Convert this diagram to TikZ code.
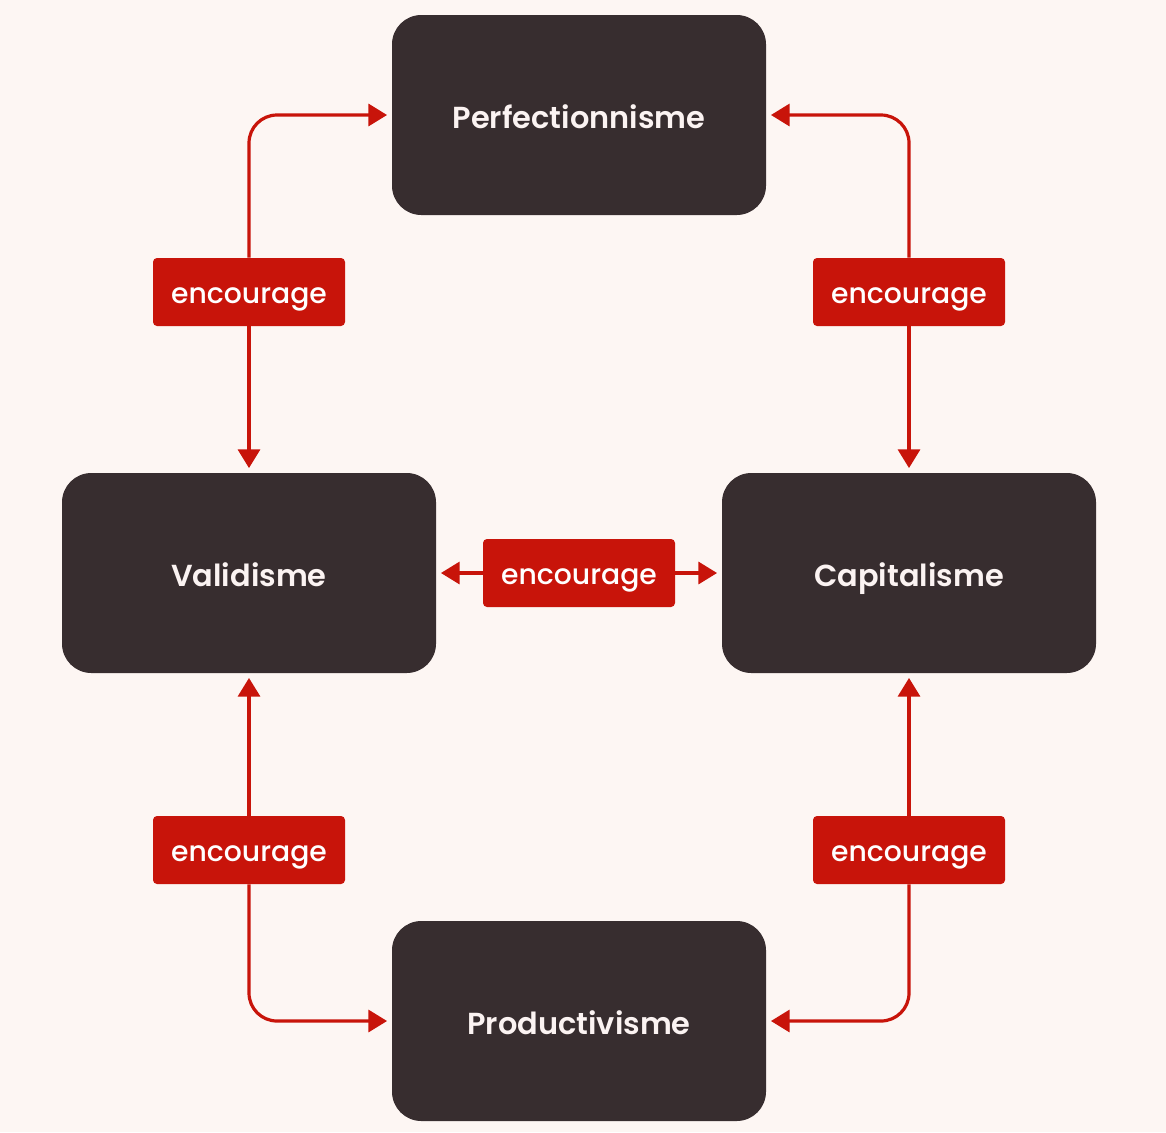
\documentclass[tikz,border=0pt]{standalone}
\usepackage{fontspec}
\setmainfont{Poppins}
\newfontfamily\boxfont{Poppins SemiBold}
\newfontfamily\labfont{Poppins Medium}
\usetikzlibrary{arrows.meta,calc}
\definecolor{bg}{HTML}{FDF6F3}
\definecolor{boxc}{HTML}{372D2F}
\definecolor{redc}{HTML}{C8140A}
\definecolor{txtc}{HTML}{FBF3F2}
\begin{document}
\begin{tikzpicture}[x=0.75pt,y=-0.75pt,
  concept/.style={fill=boxc, text=txtc, rounded corners=22pt, minimum width=280.5pt, minimum height=150pt, inner sep=0pt, text height=19.5pt, text depth=0pt, font=\boxfont\fontsize{22.8}{26}\selectfont},
  rel/.style={fill=redc, text=white, rounded corners=3pt, minimum width=144pt, minimum height=51pt, inner sep=0pt, text height=16.5pt, text depth=0pt, font=\labfont\fontsize{21.2}{24}\selectfont},
  link/.style={draw=redc, line width=2.4pt, rounded corners=21pt, -{Triangle[length=14pt,width=16.5pt]}, shorten >=3.5pt}
]
\fill[bg] (0,0) rectangle (1166,1132);
\useasboundingbox (0,0) rectangle (1166,1132);

\node[concept] (P) at (579,115) {Perfectionnisme};
\node[concept] (V) at (249,573) {Validisme};
\node[concept] (C) at (909,573) {Capitalisme};
\node[concept] (D) at (579,1021) {Productivisme};

\node[rel] (l1) at (249,292) {encourage};
\node[rel] (l2) at (909,292) {encourage};
\node[rel] (l3) at (579,573) {encourage};
\node[rel] (l4) at (249,850) {encourage};
\node[rel] (l5) at (909,850) {encourage};

\draw[link] (l1.north) |- (P.west);
\draw[link] (l1.south) -- (V.north);
\draw[link] (l2.north) |- (P.east);
\draw[link] (l2.south) -- (C.north);
\draw[link] (l3.west) -- (V.east);
\draw[link] (l3.east) -- (C.west);
\draw[link] (l4.north) -- (V.south);
\draw[link] (l4.south) |- (D.west);
\draw[link] (l5.north) -- (C.south);
\draw[link] (l5.south) |- (D.east);
\end{tikzpicture}
\end{document}
